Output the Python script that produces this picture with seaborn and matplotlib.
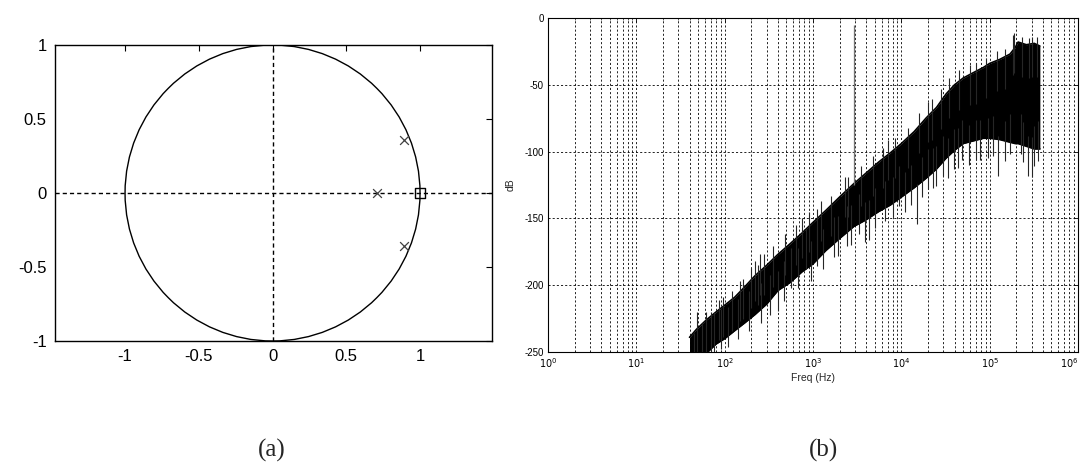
import numpy as np
import pandas as pd
import matplotlib
matplotlib.use("Agg")
import matplotlib.pyplot as plt
import seaborn as sns
from matplotlib.patches import Circle
from matplotlib.ticker import FixedLocator, LogLocator, NullFormatter

sns.set_style("white")
plt.rcParams['font.family'] = ['Liberation Sans', 'DejaVu Sans']
plt.rcParams['axes.unicode_minus'] = False

# ---------------- (a) pole-zero plot data ----------------
pole_re = [0.89, 0.71, 0.89]
pole_im = [0.36, 0.0, -0.36]
zero_re = [1.0]
zero_im = [0.0]
a_ticks = [-1, -0.5, 0, 0.5, 1]
a_tick_labels = ["-1", "-0.5", "0", "0.5", "1"]

# ---------------- (b) spectrum data ----------------
env_freq = [40, 48, 62, 80, 100, 130, 170, 220, 300, 400, 550, 750, 1000, 1400,
            2000, 2900, 4000, 5500, 7500, 10000, 14000, 19000, 25000, 32000,
            40000, 50000, 65000, 85000, 100000, 130000, 170000, 195000, 210000,
            260000, 320000, 370000]
env_upper = [-239, -233, -226, -220, -215, -209, -201, -193, -185, -177, -169,
             -161, -153, -144, -134, -124, -116, -108, -101, -94, -85, -75, -67,
             -57, -50, -45, -41, -37, -34, -31, -27, -22, -18, -20, -19, -21]
env_lower = [-258, -256, -251, -244, -240, -234, -228, -222, -214, -204, -198,
             -190, -184, -174, -165, -156, -151, -145, -140, -134, -127, -120,
             -113, -105, -99, -94, -92, -90, -90, -91, -93, -94, -94, -96, -98, -98]

spike_up_freq = [45, 55, 70, 87, 95, 120, 148, 160, 200, 250, 280, 350, 480, 650,
                 760, 900, 1100, 1230, 1600, 2300, 2500, 3500, 4800, 6200, 7000,
                 8500, 12000, 16000, 20000, 22000, 28000, 35000, 45000, 60000,
                 70000, 90000, 120000, 150000, 186000, 190000, 230000, 280000,
                 302000, 340000]
spike_up_db = [-236, -228, -220, -211, -209, -204, -197, -195, -187, -177, -177,
               -171, -162, -155, -150, -145, -143, -137, -133, -119, -119, -111,
               -103, -97, -91, -90, -82, -71, -63, -61, -53, -45, -39, -35, -34,
               -30, -25, -23, -13, -11, -14, -15, -14, -14]

spike_dn_freq = [48, 62, 75, 90, 110, 140, 190, 218, 240, 260, 330, 405, 470, 570,
                 680, 835, 950, 1120, 1300, 1730, 1900, 2400, 2700, 3300, 3900,
                 4350, 5000, 6500, 8000, 9300, 11000, 13000, 15100, 17000, 20000,
                 23000, 25000, 29500, 34000, 39000, 44000, 48000, 58000, 70000,
                 78000, 95000, 110000, 124000, 150000, 170000, 225000, 240000,
                 275000, 300000, 318000, 355000]
spike_dn_db = [-250, -250, -250, -248, -246, -240, -234, -212, -215, -228, -222,
               -219, -212, -202, -202, -188, -197, -186, -188, -179, -178, -171,
               -170, -162, -168, -166, -157, -152, -149, -141, -145, -140, -154,
               -134, -128, -127, -126, -118, -120, -113, -112, -106, -110, -106,
               -106, -105, -103, -118, -107, -102, -102, -108, -118, -119, -111, -107]

tone_freq = [2884]
tone_db = [-5]

b_yticks = [0, -50, -100, -150, -200, -250]
b_ylabels = ["0", "-50", "-100", "-150", "-200", "-250"]
b_xticks = [1, 10, 100, 1000, 10000, 100000, 1000000]
b_xlabels = [r"$10^{0}$", r"$10^{1}$", r"$10^{2}$", r"$10^{3}$",
             r"$10^{4}$", r"$10^{5}$", r"$10^{6}$"]

fig = plt.figure(figsize=(10.85, 4.62), dpi=100)

# ================= (a) =================
axa = fig.add_axes([55 / 1085, 1 - 341 / 462, 437 / 1085, 296 / 462])
axa.add_patch(Circle((0, 0), 1.0, fill=False, edgecolor="black", lw=1.0, zorder=2))
axa.axhline(0, color="black", lw=1.0, ls=(0, (3, 2.2)), zorder=1)
axa.axvline(0, color="black", lw=1.0, ls=(0, (3, 2.2)), zorder=1)
poles = pd.DataFrame({"re": pole_re, "im": pole_im})
zeros = pd.DataFrame({"re": zero_re, "im": zero_im})
sns.scatterplot(data=poles, x="re", y="im", marker="x", s=40, color="0.25",
                linewidth=0.9, ax=axa, zorder=3)
sns.scatterplot(data=zeros, x="re", y="im", marker="s", s=55, facecolor="none",
                edgecolor="black", linewidth=1.0, ax=axa, zorder=3)
axa.set_xlim(-1.475, 1.488)
axa.set_ylim(-1, 1)
axa.set_xticks(a_ticks)
axa.set_xticklabels(a_tick_labels)
axa.set_yticks(a_ticks)
axa.set_yticklabels(a_tick_labels)
axa.set_xlabel("")
axa.set_ylabel("")
axa.tick_params(direction="in", length=4, width=0.8, top=True, right=True,
                labelsize=12, pad=6, colors="black")
for sp in axa.spines.values():
    sp.set_visible(True)
    sp.set_color("black")
    sp.set_linewidth(1.0)

# ================= (b) =================
axb = fig.add_axes([548 / 1085, 1 - 352 / 462, 530 / 1085, 334 / 462])
axb.set_xscale("log")
axb.set_axisbelow(True)
axb.fill_between(env_freq, env_lower, env_upper, color="black", lw=0, zorder=2)
env = pd.DataFrame({"f": env_freq, "up": env_upper, "lo": env_lower})
sns.lineplot(data=env, x="f", y="up", color="black", lw=1.2, ax=axb, zorder=3)
sns.lineplot(data=env, x="f", y="lo", color="black", lw=1.2, ax=axb, zorder=3)
up_base = [d - 30 for d in spike_up_db]
axb.vlines(spike_up_freq, up_base, spike_up_db, color="0.15", lw=0.8, zorder=3)
dn_base = [d + 30 for d in spike_dn_db]
axb.vlines(spike_dn_freq, spike_dn_db, dn_base, color="0.15", lw=0.8, zorder=3)
axb.vlines(tone_freq, [-125], tone_db, color="0.45", lw=0.9, zorder=3)

axb.set_xlim(1, 1e6)
axb.set_ylim(-250, 0)
axb.xaxis.set_major_locator(FixedLocator(b_xticks))
axb.set_xticklabels(b_xlabels)
axb.xaxis.set_minor_locator(LogLocator(base=10, subs=range(2, 10), numticks=20))
axb.xaxis.set_minor_formatter(NullFormatter())
axb.set_yticks(b_yticks)
axb.set_yticklabels(b_ylabels)
axb.grid(which="both", axis="x", color="black", lw=0.6, ls=(0, (2.5, 2.5)))
axb.grid(which="major", axis="y", color="black", lw=0.6, ls=(0, (2.5, 2.5)))
axb.tick_params(which="major", direction="in", length=3, width=0.6, top=True,
                right=True, labelsize=7, pad=3, colors="black")
axb.tick_params(which="minor", direction="in", length=1.5, width=0.5, top=True,
                right=True)
# keep the last decade label inside the picture
axb.get_xticklabels()[-1].set_horizontalalignment("right")
axb.set_xlabel("Freq (Hz)", fontsize=7.5, labelpad=2)
axb.set_ylabel("dB", fontsize=7.5, labelpad=6)
for sp in axb.spines.values():
    sp.set_visible(True)
    sp.set_color("black")
    sp.set_linewidth(0.8)

# captions
fig.text(272 / 1085, 1 - 450 / 462, "(a)", family=["Liberation Serif", "DejaVu Serif"],
         fontsize=18, ha="center", va="center")
fig.text(823 / 1085, 1 - 450 / 462, "(b)", family=["Liberation Serif", "DejaVu Serif"],
         fontsize=18, ha="center", va="center")

fig.savefig("out.png", dpi=100)
